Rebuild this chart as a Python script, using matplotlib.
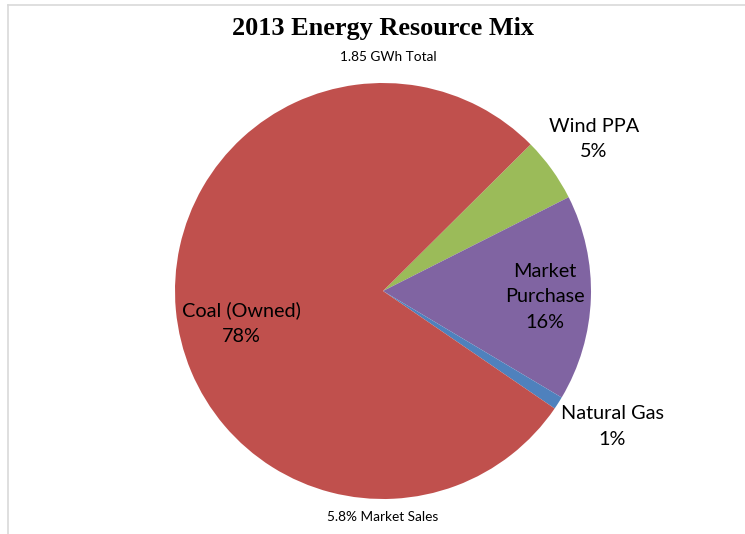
import numpy as np
import matplotlib.pyplot as plt
from matplotlib.lines import Line2D

labels = ["Wind PPA", "Market\nPurchase", "Natural Gas", "Coal (Owned)"]
shares = [5, 16, 1, 78]
colors = ["#9BBB59", "#8064A2", "#4F81BD", "#C0504D"]
title = "2013 Energy Resource Mix"
subtitle = "1.85 GWh Total"
footnote = "5.8% Market Sales"

fig = plt.figure(figsize=(7.45, 5.34), dpi=100)
fig.patch.set_facecolor("white")

# thin grey chart-area border (top and left only visible)
fig.add_artist(Line2D([8 / 745, 1], [1 - 5 / 534, 1 - 5 / 534], color="#D9D9D9", lw=1.2))
fig.add_artist(Line2D([8 / 745, 8 / 745], [0, 1 - 5 / 534], color="#D9D9D9", lw=1.2))

cx, cy, r = 383, 291, 208
ax = fig.add_axes([(cx - r) / 745, (534 - cy - r) / 534, 2 * r / 745, 2 * r / 534])
start = 44.8
wedges, _ = ax.pie(shares, colors=colors, startangle=start, counterclock=False,
                   wedgeprops=dict(linewidth=0), radius=1)
ax.set_xlim(-1, 1)
ax.set_ylim(-1, 1)
ax.set_aspect("equal")
ax.axis("off")

# label placement: (radius, angle offset in degrees) relative to each wedge's middle
label_place = [(1.25, 0), (0.78, 0), (1.28, 2), (0.70, 7.5)]
for w, lab, val, (dist, off) in zip(wedges, labels, shares, label_place):
    mid = np.deg2rad((w.theta1 + w.theta2) / 2 + off)
    ax.text(dist * np.cos(mid), dist * np.sin(mid), f"{lab}\n{val}%",
            ha="center", va="center", fontsize=14.3, family="Lato",
            linespacing=1.6, color="black")

fig.text(383 / 745, 1 - 29 / 534, title, ha="center", va="center",
         fontsize=18.9, fontweight="bold", family="Liberation Serif")
fig.text(388 / 745, 1 - 57 / 534, subtitle, ha="center", va="center",
         fontsize=9.8, family="Lato")
fig.text(383 / 745, 1 - 517 / 534, footnote, ha="center", va="center",
         fontsize=9.8, family="Lato")

fig.savefig("out.png", dpi=100)
